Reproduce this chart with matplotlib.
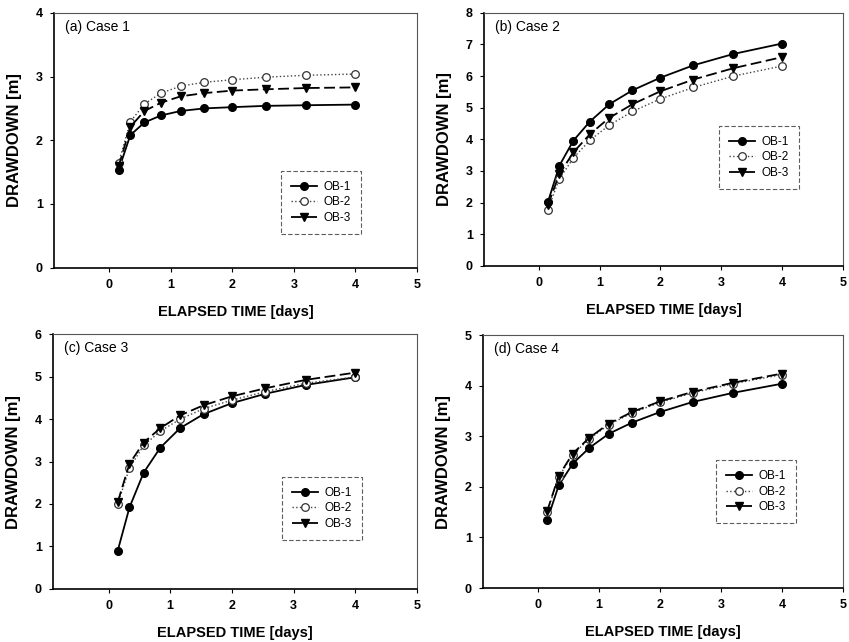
import matplotlib
matplotlib.use("Agg")
import matplotlib.pyplot as plt

plt.rcParams['font.family'] = ['Liberation Sans', 'DejaVu Sans']

# elapsed time [days]
time_days = [0.15, 0.34, 0.57, 0.84, 1.16, 1.54, 2.0, 2.54, 3.2, 4.0]

case1_ob1 = [1.53, 2.08, 2.28, 2.39, 2.46, 2.50, 2.52, 2.54, 2.55, 2.56]
case1_ob2 = [1.64, 2.29, 2.57, 2.74, 2.85, 2.91, 2.95, 2.99, 3.02, 3.04]
case1_ob3 = [1.59, 2.21, 2.46, 2.59, 2.69, 2.74, 2.78, 2.80, 2.82, 2.83]

case2_ob1 = [2.01, 3.17, 3.96, 4.56, 5.11, 5.55, 5.95, 6.34, 6.70, 7.03]
case2_ob2 = [1.78, 2.75, 3.41, 3.97, 4.45, 4.88, 5.28, 5.64, 6.00, 6.32]
case2_ob3 = [1.92, 2.90, 3.59, 4.16, 4.68, 5.11, 5.52, 5.89, 6.25, 6.60]

case3_ob1 = [0.90, 1.92, 2.74, 3.33, 3.79, 4.12, 4.38, 4.60, 4.81, 4.99]
case3_ob2 = [2.00, 2.85, 3.38, 3.72, 4.00, 4.25, 4.45, 4.65, 4.85, 5.00]
case3_ob3 = [2.05, 2.95, 3.45, 3.79, 4.09, 4.33, 4.54, 4.73, 4.93, 5.10]

case4_ob1 = [1.34, 2.03, 2.46, 2.77, 3.05, 3.27, 3.48, 3.68, 3.86, 4.04]
case4_ob2 = [1.50, 2.20, 2.64, 2.95, 3.23, 3.46, 3.67, 3.86, 4.04, 4.22]
case4_ob3 = [1.52, 2.22, 2.66, 2.97, 3.25, 3.48, 3.69, 3.88, 4.06, 4.24]

series_names = ['OB-1', 'OB-2', 'OB-3']
panel_titles = ['(a) Case 1', '(b) Case 2', '(c) Case 3', '(d) Case 4']
y_maxes = [4, 8, 6, 5]
x_ticks = [0, 1, 2, 3, 4, 5]

panels = [
    (case1_ob1, case1_ob2, case1_ob3),
    (case2_ob1, case2_ob2, case2_ob3),
    (case3_ob1, case3_ob2, case3_ob3),
    (case4_ob1, case4_ob2, case4_ob3),
]

fig = plt.figure(figsize=(8.49, 6.42), dpi=100)

# [left, bottom, width, height] in figure fractions
rects = [
    [0.0636, 0.583, 0.4276, 0.397],
    [0.5700, 0.586, 0.4230, 0.394],
    [0.0624, 0.083, 0.4288, 0.396],
    [0.5690, 0.084, 0.4240, 0.394],
]
legend_anchor = [(0.625, 0.38), (0.655, 0.553), (0.63, 0.44), (0.647, 0.506)]

for i, (rect, data) in enumerate(zip(rects, panels)):
    ax = fig.add_axes(rect)
    ob1, ob2, ob3 = data
    ax.plot(time_days, ob1, '-', color='black', lw=1.3, marker='o',
            ms=5.5, mfc='black', mec='black', label=series_names[0])
    ax.plot(time_days, ob2, ':', color='#444444', lw=1.0, marker='o',
            ms=5.5, mfc='white', mec='#333333', mew=0.9, label=series_names[1])
    ax.plot(time_days, ob3, '--', color='black', lw=1.3, dashes=(6, 2.5),
            marker='v', ms=5.5, mfc='black', mec='black', label=series_names[2])
    ax.set_xlim(-0.9, 5)
    ax.set_ylim(0, y_maxes[i])
    ax.set_xticks(x_ticks)
    ax.set_yticks(range(0, y_maxes[i] + 1))
    ax.tick_params(axis='both', direction='out', length=3, width=0.8,
                   labelsize=9, pad=5)
    for lab in ax.get_xticklabels() + ax.get_yticklabels():
        lab.set_fontweight('bold')
    ax.set_xlabel('ELAPSED TIME [days]', fontsize=10.5, fontweight='bold', labelpad=10)
    ax.set_ylabel('DRAWDOWN [m]', fontsize=12, fontweight='bold', labelpad=10)
    for side in ['left', 'bottom']:
        ax.spines[side].set_linewidth(1.2)
        ax.spines[side].set_color('black')
    for side in ['top', 'right']:
        ax.spines[side].set_linewidth(0.8)
        ax.spines[side].set_color('#555555')
    ax.text(0.03, 0.945, panel_titles[i], transform=ax.transAxes,
            fontsize=10, va='center', ha='left')
    leg = ax.legend(loc='upper left', bbox_to_anchor=legend_anchor[i],
                    fontsize=8.5, frameon=True, fancybox=False, borderpad=0.85,
                    handlelength=2.2, handletextpad=0.55, labelspacing=0.3,
                    borderaxespad=0)
    leg.get_frame().set_edgecolor('#333333')
    leg.get_frame().set_linewidth(0.8)
    leg.get_frame().set_linestyle((0, (4, 2)))

fig.savefig('out.png', dpi=100)
